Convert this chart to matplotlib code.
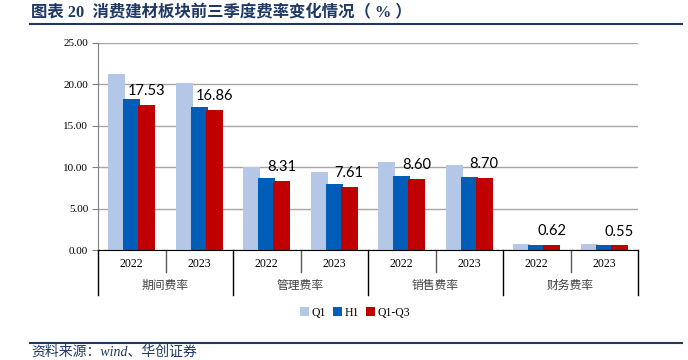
import matplotlib.pyplot as plt
from matplotlib.lines import Line2D
from matplotlib.patches import Patch

plt.rcParams['font.family'] = ['Liberation Serif', 'Noto Sans CJK SC']

# 数据
groups = ['期间费率', '管理费率', '销售费率', '财务费率']
years = ['2022', '2023']
series = ['Q1', 'H1', 'Q1-Q3']
q1 = [21.2, 20.2, 10.0, 9.38, 10.6, 10.27, 0.72, 0.72]
h1 = [18.2, 17.23, 8.7, 7.97, 8.94, 8.78, 0.66, 0.66]
q1q3 = [17.53, 16.86, 8.31, 7.61, 8.60, 8.70, 0.62, 0.55]
yticks = [0, 5, 10, 15, 20, 25]

colors = ['#B4C7E7', '#005EB8', '#C00000']

W, H = 688, 360
fig = plt.figure(figsize=(6.88, 3.6), dpi=100)
ax = fig.add_axes([98 / W, (H - 250) / H, 540 / W, 207 / H])

n = len(q1)
x = [i + 0.5 for i in range(n)]
offs = [-0.22, 0.0, 0.22]
for vals, off, c in zip([q1, h1, q1q3], offs, colors):
    ax.bar([xi + off for xi in x], vals, width=0.25, color=c, zorder=3)

# 数据标签（Q1-Q3）
for xi, v in zip(x, q1q3):
    ax.annotate(f'{v:.2f}', (xi + 0.22, v), xytext=(0, 5), textcoords='offset points',
                ha='center', va='bottom', fontsize=10.5, family='Lato', zorder=4)

ax.set_xlim(0, n)
ax.set_ylim(0, 25)
ax.set_yticks(yticks)
ax.set_yticklabels([f'{t:.2f}' for t in yticks], fontsize=8)
ax.tick_params(axis='y', length=4, color='#808080', pad=3)
ax.set_xticks([])
ax.grid(axis='y', color='#A6A6A6', linewidth=1, zorder=0)
for s in ['top', 'right']:
    ax.spines[s].set_visible(False)
ax.spines['left'].set_color('#808080')
ax.spines['bottom'].set_color('black')
ax.spines['bottom'].set_zorder(5)

# 分类轴标签与分隔线
tr = ax.get_xaxis_transform()
short = -22 / 207
long_ = -45 / 207
for i in range(n + 1):
    y0 = long_ if i % 2 == 0 else short
    ax.add_line(Line2D([i, i], [0, y0], transform=tr, color='#595959' if i % 2 else 'black',
                       linewidth=1, clip_on=False))
for i, xi in enumerate(x):
    ax.text(xi, -14 / 207, years[i % 2], transform=tr, ha='center', va='center', fontsize=8.5)
for g, name in enumerate(groups):
    ax.text(2 * g + 1, -35 / 207, name, transform=tr, ha='center', va='center',
            fontsize=8.5, family='Noto Sans CJK SC', color='#404040')

# 图例
handles = [Patch(facecolor=c, edgecolor='none') for c in colors]
fig.legend(handles, series, loc='center', bbox_to_anchor=(355 / W, 1 - 313 / H), ncol=3,
           frameon=False, fontsize=8.5, handlelength=0.8, handleheight=0.8,
           handletextpad=0.2, columnspacing=0.6)

# 标题与来源
navy = '#1F3864'
fig.text(31 / W, 1 - 13 / H, '图表 20  消费建材板块前三季度费率变化情况（ % ）', ha='left', va='center',
         fontsize=11.8, fontweight='bold', color=navy, family=['Liberation Serif', 'Noto Sans CJK SC'])
fig.add_artist(Line2D([30 / W, 682 / W], [1 - 24 / H, 1 - 24 / H], color=navy, linewidth=1.5))
fig.add_artist(Line2D([30 / W, 682 / W], [1 - 343 / H, 1 - 343 / H], color=navy, linewidth=1.5))
fig.text(31 / W, 1 - 352 / H, '资料来源：wind、华创证券', ha='left', va='center', fontsize=10,
         style='italic', color=navy, family=['Liberation Serif', 'Noto Sans CJK SC'])

fig.savefig('out.png', dpi=100)
